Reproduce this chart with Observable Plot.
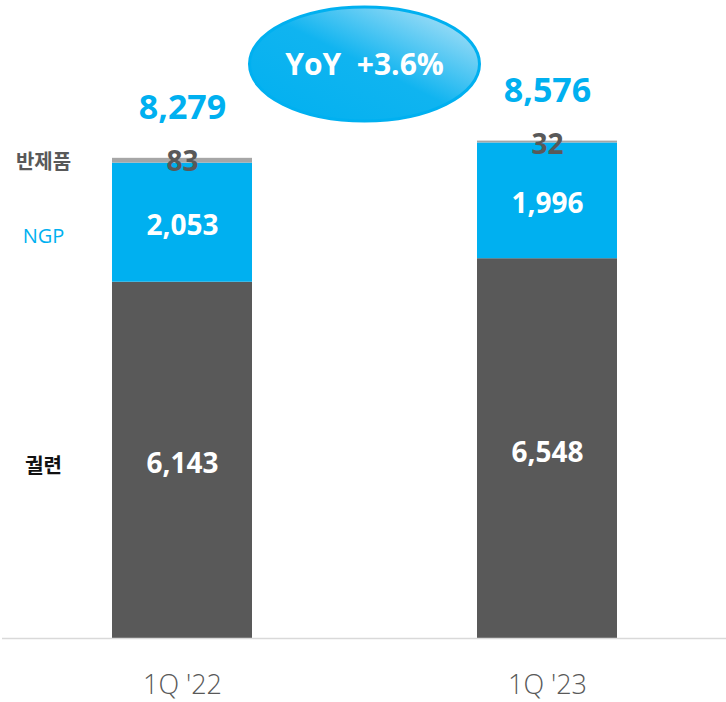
<!DOCTYPE html>
<html>
<head>
<meta charset="utf-8">
<script src="https://cdn.jsdelivr.net/npm/d3@7"></script>
<script src="https://cdn.jsdelivr.net/npm/@observablehq/plot@0.6"></script>
<style>
  html, body { margin: 0; padding: 0; background: #fff; }
  #chart svg { display: block; }
</style>
</head>
<body>
<div id="chart"></div>
<script>
const categories = ["1Q '22", "1Q '23"];
const segments = ["궐련", "NGP", "반제품"];
const cigarettes = [6143, 6548];
const ngp = [2053, 1996];
const semi = [83, 32];
const totals = [8279, 8576];

const colors = { "궐련": "#595959", "NGP": "#00B0F0", "반제품": "#A6A6A6" };
const FONT = "'Open Sans', 'Noto Sans CJK KR', sans-serif";
const fmt = d3.format(",");

const rows = [];
categories.forEach((c, i) => {
  rows.push({ cat: c, seg: "궐련", value: cigarettes[i] });
  rows.push({ cat: c, seg: "NGP", value: ngp[i] });
  rows.push({ cat: c, seg: "반제품", value: semi[i] });
});
const info = categories.map((c, i) => ({
  cat: c, cig: cigarettes[i], ngp: ngp[i], semi: semi[i], total: totals[i]
}));

const chart = Plot.plot({
  width: 726,
  height: 702,
  marginTop: 0,
  marginBottom: 64,
  marginLeft: 2,
  marginRight: 0,
  style: { fontFamily: FONT, background: "#fff" },
  x: { domain: categories, paddingInner: 0.6175, paddingOuter: 0.3005, axis: null },
  y: { domain: [0, 11000], axis: null },
  color: { domain: segments, range: segments.map(s => colors[s]) },
  marks: [
    Plot.barY(rows, { x: "cat", y: "value", fill: "seg" }),
    Plot.ruleY([0], { stroke: "#D9D9D9", strokeWidth: 1.5 }),
    // value labels
    Plot.text(info, { x: "cat", y: d => d.cig / 2, dy: 4, text: d => fmt(d.cig),
      fill: "#fff", fontSize: 28, fontWeight: 700 }),
    Plot.text(info, { x: "cat", y: d => d.cig + d.ngp / 2, dy: 3, text: d => fmt(d.ngp),
      fill: "#fff", fontSize: 28, fontWeight: 700 }),
    Plot.text(info, { x: "cat", y: "total", dy: 4, text: d => fmt(d.semi),
      fill: "#595959", fontSize: 28, fontWeight: 700 }),
    Plot.text(info, { x: "cat", y: "total", dy: -50, text: d => fmt(d.total),
      fill: "#00B0F0", fontSize: 34, fontWeight: 700 }),
    // category labels
    Plot.text(categories, { x: d => d, y: 0, dy: 47, text: d => d,
      fill: "#595959", fontSize: 27, fontWeight: 300 }),
    // left segment labels
    Plot.text([info[0]], { frameAnchor: "left", textAnchor: "middle", dx: 41, y: "total", dy: 4, text: () => "반제품",
      fill: "#595959", fontSize: 20, fontWeight: 700 }),
    Plot.text([info[0]], { frameAnchor: "left", textAnchor: "middle", dx: 41, y: d => d.cig + d.ngp / 2, dy: 14, text: () => "NGP",
      fill: "#00B0F0", fontSize: 20, fontWeight: 400 }),
    Plot.text([info[0]], { frameAnchor: "left", textAnchor: "middle", dx: 41, y: d => d.cig / 2, dy: 6, text: () => "궐련",
      fill: "#111", fontSize: 20, fontWeight: 700 })
  ]
});

document.getElementById("chart").appendChild(chart);

// YoY badge
const xs = chart.scale("x");
const cx = (xs.apply(categories[0]) + xs.apply(categories[1])) / 2 + xs.bandwidth / 2;
const cy = 64;
const yoy = (totals[1] / totals[0] - 1) * 100;
const svg = d3.select(chart);
const defs = svg.append("defs");
const grad = defs.append("linearGradient").attr("id", "yoyGrad")
  .attr("x1", "0").attr("y1", "1").attr("x2", "1").attr("y2", "0");
grad.append("stop").attr("offset", "0%").attr("stop-color", "#00B0F0");
grad.append("stop").attr("offset", "50%").attr("stop-color", "#10B4F0");
grad.append("stop").attr("offset", "100%").attr("stop-color", "#C4E8F8");
svg.append("ellipse")
  .attr("cx", cx).attr("cy", cy).attr("rx", 115).attr("ry", 57)
  .attr("fill", "url(#yoyGrad)").attr("stroke", "#00B0F0").attr("stroke-width", 3);
svg.append("text")
  .attr("x", cx).attr("y", cy + 3)
  .attr("text-anchor", "middle").attr("dominant-baseline", "middle")
  .attr("fill", "#fff").attr("font-family", FONT)
  .attr("font-size", 30).attr("font-weight", 700)
  .attr("xml:space", "preserve")
  .text(`YoY  +${yoy.toFixed(1)}%`);
</script>
</body>
</html>
